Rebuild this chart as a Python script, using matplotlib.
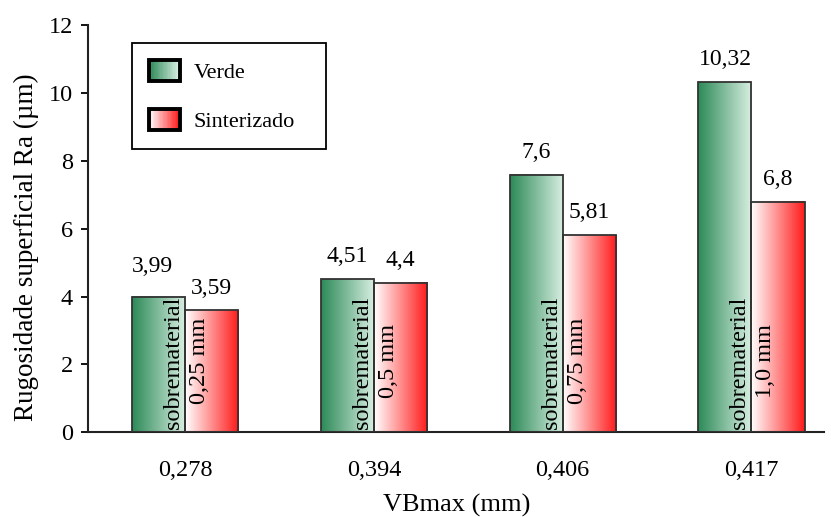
import matplotlib.pyplot as plt
from matplotlib import colors
from matplotlib.patches import Rectangle
from matplotlib.legend_handler import HandlerBase
import numpy as np

plt.rcParams['font.family'] = ['Liberation Serif', 'DejaVu Serif']

# Data
vb_labels = ['0,278', '0,394', '0,406', '0,417']
verde = [3.99, 4.51, 7.6, 10.32]
sinterizado = [3.59, 4.4, 5.81, 6.8]
verde_txt = ['3,99', '4,51', '7,6', '10,32']
sint_txt = ['3,59', '4,4', '5,81', '6,8']
sobremat = ['0,25 mm', '0,5 mm', '0,75 mm', '1,0 mm']

green_map = colors.LinearSegmentedColormap.from_list('verde', ['#2c8a57', '#d9efe3'])
red_map = colors.LinearSegmentedColormap.from_list('sint', ['#ffffff', '#ff1a1a'])
grad = np.linspace(0, 1, 256).reshape(1, -1)


class GradientHandler(HandlerBase):
    # legend key filled with a horizontal colour ramp and a heavy border
    def __init__(self, cmap, n=24):
        super().__init__()
        self.cmap = cmap
        self.n = n

    def create_artists(self, legend, orig_handle, xdescent, ydescent,
                       width, height, fontsize, trans):
        arts = []
        w = width / self.n
        for i in range(self.n):
            arts.append(Rectangle((-xdescent + i * w, -ydescent), w * 1.05, height,
                                  facecolor=self.cmap(i / (self.n - 1)), edgecolor='none',
                                  transform=trans))
        arts.append(Rectangle((-xdescent, -ydescent), width, height, facecolor='none',
                              edgecolor='black', linewidth=2.8, transform=trans))
        return arts


fig = plt.figure(figsize=(8.31, 5.17), dpi=100)
ax = fig.add_axes([0.106, 0.164, 0.886, 0.787])

x = np.arange(len(vb_labels))
width = 0.281

bars_v = ax.bar(x - width / 2, verde, width, facecolor='none', edgecolor='#333333', linewidth=1.3, zorder=3)
bars_s = ax.bar(x + width / 2, sinterizado, width, facecolor='none', edgecolor='#333333', linewidth=1.3, zorder=3)

for bars, cmap in ((bars_v, green_map), (bars_s, red_map)):
    for b in bars:
        x0, y0 = b.get_x(), b.get_y()
        ax.imshow(grad, cmap=cmap, aspect='auto', zorder=2,
                  extent=(x0, x0 + b.get_width(), y0, y0 + b.get_height()))

# value labels above the bars
for i in range(len(x)):
    off_v = 0.74 if i == 0 else 0.5
    dx = -0.03 if i == 0 else 0.0
    ax.text(x[i] - width / 2 + dx, verde[i] + off_v, verde_txt[i], ha='center', va='baseline', fontsize=17)
    ax.text(x[i] + width / 2, sinterizado[i] + 0.5, sint_txt[i], ha='center', va='baseline', fontsize=17)
    # vertical notes inside the bars
    ax.text(x[i] - width * 0.22, 0.08, 'sobrematerial', rotation=90, ha='center', va='bottom',
            fontsize=17.5, zorder=4)
    ax.text(x[i] + width * 0.27, 2.1, sobremat[i], rotation=90, ha='center', va='center',
            fontsize=17.5, zorder=4)

ax.set_xlim(-0.514, 3.386)
ax.set_ylim(0, 12)
ax.set_yticks([0, 2, 4, 6, 8, 10, 12])
ax.set_xticks(x)
ax.set_xticklabels(vb_labels)
ax.tick_params(axis='x', length=0, pad=20, labelsize=17.5)
ax.tick_params(axis='y', length=5, width=1.3, pad=6, labelsize=17.5, direction='out')

for s in ('top', 'right'):
    ax.spines[s].set_visible(False)
for s in ('left', 'bottom'):
    ax.spines[s].set_linewidth(1.5)
    ax.spines[s].set_color('#222222')

ax.set_xlabel('VBmax (mm)', fontsize=19, labelpad=9)
ax.set_ylabel('Rugosidade superficial Ra (µm)', fontsize=19.5)
ax.yaxis.set_label_coords(-0.067, 0.455)

h1 = Rectangle((0, 0), 1, 1)
h2 = Rectangle((0, 0), 1, 1)
leg = ax.legend([h1, h2], ['Verde', 'Sinterizado'],
                handler_map={h1: GradientHandler(green_map), h2: GradientHandler(red_map)},
                loc='upper left', bbox_to_anchor=(0.0598, 0.956, 0.2636, 0.0), mode='expand',
                borderaxespad=0, fontsize=16,
                fancybox=False, framealpha=1, edgecolor='black', borderpad=0.75,
                labelspacing=1.15, handlelength=1.4, handleheight=1.1, handletextpad=0.63)
leg.get_frame().set_linewidth(1.3)

fig.savefig('out.png', dpi=100)
